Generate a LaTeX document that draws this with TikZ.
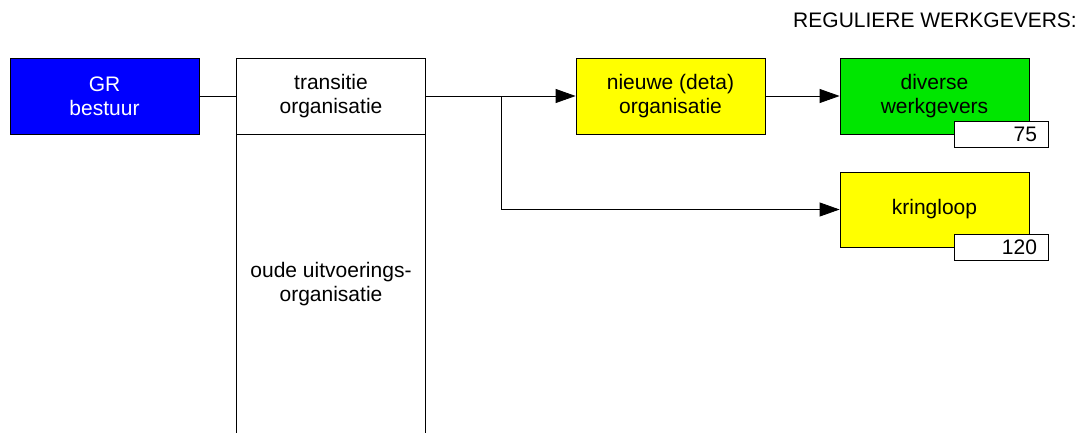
\documentclass[tikz,border=0pt]{standalone}
\usepackage{fontspec}
\setmainfont{Liberation Sans}
\usetikzlibrary{arrows.meta,positioning}
\definecolor{grblue}{RGB}{0,0,255}
\definecolor{gryellow}{RGB}{255,255,0}
\definecolor{grgreen}{RGB}{0,230,0}
\begin{document}
\begin{tikzpicture}[x=1pt,y=-1pt,
    font=\fontsize{21}{24}\selectfont,
    box/.style={draw=black, line width=0.8pt, minimum width=189pt, minimum height=76pt, inner sep=0pt, align=center},
    count/.style={draw=black, fill=white, line width=0.8pt, minimum width=94pt, minimum height=26pt, inner sep=0pt, text width=72pt, align=right},
    flow/.style={line width=0.8pt, -{Triangle[length=20pt,width=14pt]}}]
    \useasboundingbox (0,0) rectangle (1087,432);
    % linker kolom
    \node[box, fill=grblue, text=white] (gr) at (104.5,96) {GR\\bestuur};
    \node[box, fill=white] (trans) at (331,96) {transitie\\organisatie};
    \node[box, fill=white, minimum height=300pt, anchor=north] (oude) at (331,134) {oude uitvoerings-\\organisatie};
    % rechter deel
    \node[box, fill=gryellow] (nieuwe) at (670.5,96) {nieuwe (deta)\\organisatie};
    \node[box, fill=grgreen] (divers) at (934.5,96) {diverse\\werkgevers};
    \node[box, fill=gryellow, minimum height=75pt] (kring) at (934.5,209.5) {kringloop};
    \node[count] (n75) at (1001,134) {75};
    \node[count] (n120) at (1001,247) {120};
    \node[anchor=base east, inner sep=0pt] (regulier) at (1077,27) {REGULIERE WERKGEVERS:};
    % verbindingen
    \coordinate (split) at (501,96);
    \draw[line width=0.8pt] (gr.east) -- (trans.west);
    \draw[flow] (trans.east) -- (nieuwe.west);
    \draw[flow] (split) |- (kring.west);
    \draw[flow] (nieuwe.east) -- (divers.west);
\end{tikzpicture}
\end{document}
